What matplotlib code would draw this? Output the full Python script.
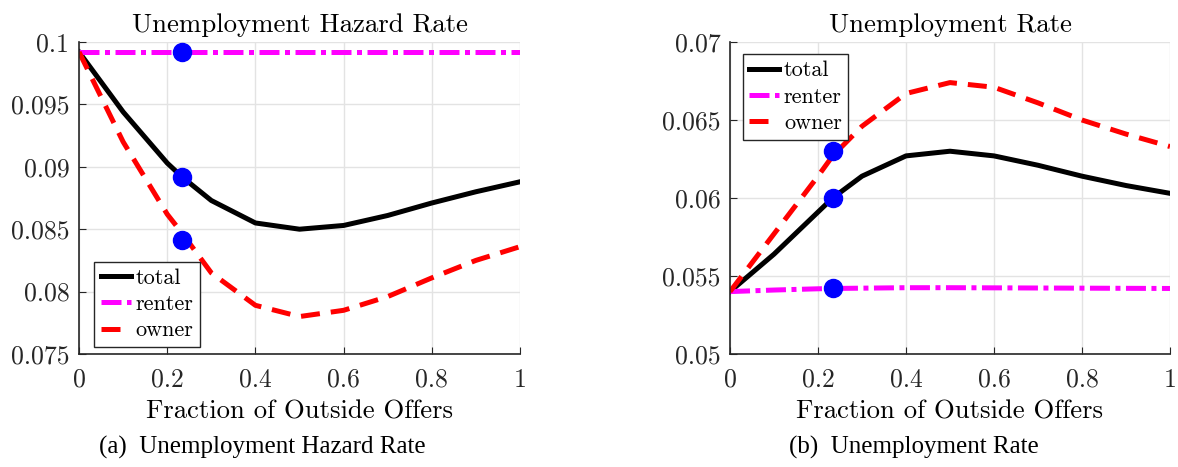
import matplotlib
matplotlib.use('Agg')
import matplotlib.pyplot as plt
from matplotlib.ticker import FuncFormatter

# Dados
frac = [0, 0.1, 0.2, 0.2333, 0.3, 0.4, 0.5, 0.6, 0.7, 0.8, 0.9, 1.0]

haz_total = [0.0992, 0.0944, 0.0903, 0.0892, 0.0873, 0.0855, 0.0850, 0.0853, 0.0861, 0.0871, 0.0880, 0.0888]
haz_renter = [0.0992] * 12
haz_owner = [0.0992, 0.0920, 0.0862, 0.0847, 0.0815, 0.0789, 0.0780, 0.0785, 0.0796, 0.0811, 0.0825, 0.0836]

ur_total = [0.0540, 0.0564, 0.0591, 0.0600, 0.0614, 0.0627, 0.0630, 0.0627, 0.0621, 0.0614, 0.0608, 0.0603]
ur_renter = [0.0540, 0.0541, 0.05418, 0.0542, 0.05422, 0.05425, 0.05425, 0.05424, 0.05423, 0.05422, 0.05421, 0.0542]
ur_owner = [0.0540, 0.0577, 0.0614, 0.0627, 0.0646, 0.0667, 0.0674, 0.0671, 0.0661, 0.0650, 0.0641, 0.0633]

# pontos de calibracao (marcadores azuis)
calib_x = 0.2333
haz_dots = [0.0992, 0.0892, 0.0841]
ur_dots = [0.0630, 0.0600, 0.0542]

titles = ['Unemployment Hazard Rate', 'Unemployment Rate']
captions = ['(a)  Unemployment Hazard Rate', '(b)  Unemployment Rate']
ylims = [(0.075, 0.1), (0.05, 0.07)]
yticks = [[0.075, 0.08, 0.085, 0.09, 0.095, 0.1], [0.05, 0.055, 0.06, 0.065, 0.07]]
legend_loc = ['lower left', 'upper left']
legend_anchor = [(0.034, 0.022), (0.029, 0.961)]

plt.rcParams['font.family'] = 'cmr10'
plt.rcParams['axes.formatter.use_mathtext'] = True

fig = plt.figure(figsize=(11.78, 4.67), dpi=100)
ax1 = fig.add_axes([0.0671, 0.242, 0.3743, 0.668])
ax2 = fig.add_axes([0.6197, 0.242, 0.3735, 0.668])

series = [(haz_total, haz_renter, haz_owner, haz_dots),
          (ur_total, ur_renter, ur_owner, ur_dots)]

for i, ax in enumerate([ax1, ax2]):
    tot, ren, own, dots = series[i]
    ax.plot(frac, tot, color='black', lw=3.6, label='total')
    ax.plot(frac, ren, color='magenta', lw=3.6, ls=(0, (4, 1.1, 1, 1.1)), label='renter')
    ax.plot(frac, own, color='red', lw=3.6, ls=(0, (3.8, 2.2)), label='owner')
    ax.plot([calib_x] * len(dots), dots, 'o', color='blue', ms=13, zorder=5)

    ax.set_xlim(0, 1)
    ax.set_ylim(*ylims[i])
    ax.set_xticks([0, 0.2, 0.4, 0.6, 0.8, 1])
    ax.set_yticks(yticks[i])
    ax.xaxis.set_major_formatter(FuncFormatter(lambda v, p: '%g' % v))
    ax.yaxis.set_major_formatter(FuncFormatter(lambda v, p: '%g' % round(v, 4)))
    ax.grid(True, color='#e3e3e3', lw=1)
    ax.set_axisbelow(True)
    for s in ['top', 'right']:
        ax.spines[s].set_visible(False)
    for s in ['left', 'bottom']:
        ax.spines[s].set_color('#262626')
        ax.spines[s].set_linewidth(1.2)
    ax.tick_params(direction='in', length=5, labelsize=18.5, colors='#262626', pad=7)
    ax.tick_params(axis='x', pad=10)
    ax.set_title(titles[i], fontsize=19.3, pad=7)
    ax.set_xlabel('Fraction of Outside Offers', fontsize=19.2, labelpad=6)
    leg = ax.legend(loc=legend_loc[i], bbox_to_anchor=legend_anchor[i], borderaxespad=0,
                    fontsize=16, handlelength=1.35, handletextpad=0.2,
                    borderpad=0.3, labelspacing=0.3, fancybox=False, framealpha=1)
    leg.get_frame().set_edgecolor('#262626')
    leg.get_frame().set_linewidth(1.0)

fig.text(0.2225, 0.028, captions[0], ha='center', fontsize=18, family='Liberation Serif')
fig.text(0.7755, 0.028, captions[1], ha='center', fontsize=18, family='Liberation Serif')

fig.savefig('out.png', dpi=100)
